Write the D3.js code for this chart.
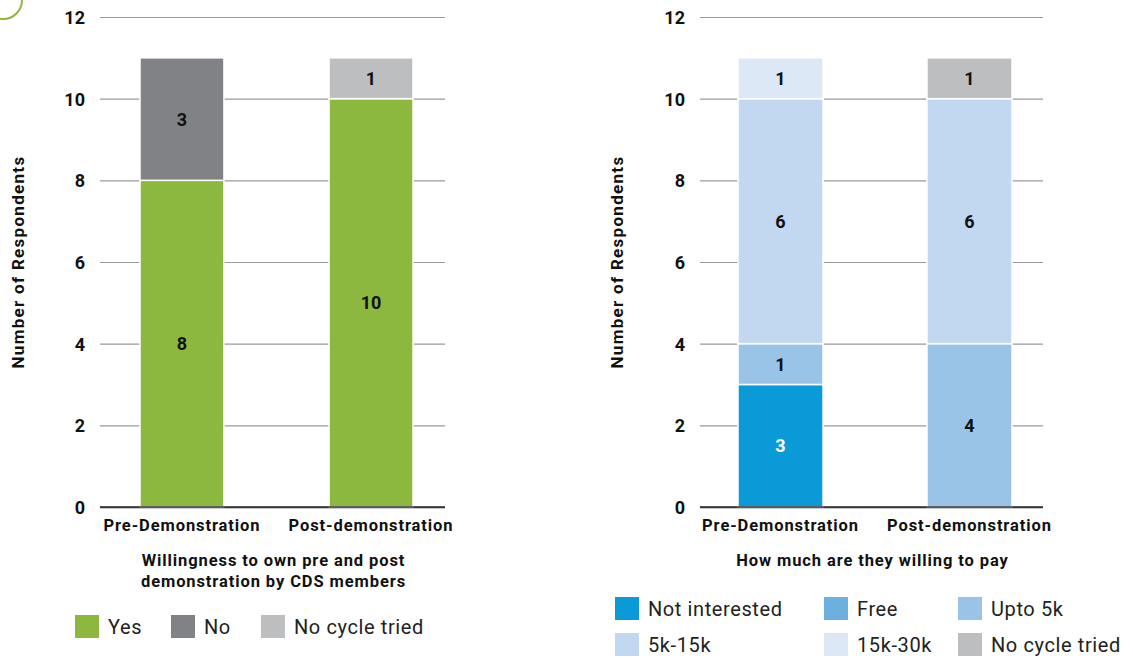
<!DOCTYPE html>
<html>
<head>
<meta charset="utf-8">
<script src="https://cdn.jsdelivr.net/npm/d3@7"></script>
<style>
  body { margin: 0; background: #fff; }
  svg { display: block; font-family: Roboto, "DejaVu Sans", sans-serif; }
</style>
</head>
<body>
<svg id="chart" width="1133" height="658"></svg>
<script>
// Shared axis data
const categories = ["Pre-Demonstration", "Post-demonstration"];
const yTicks = [0, 2, 4, 6, 8, 10, 12];

// Panel 1: willingness to own
const ownSeries = ["Yes", "No", "No cycle tried"];
const ownYes = [8, 10];
const ownNo = [3, 0];
const ownNoCycle = [0, 1];
const ownColors = ["#8cb83f", "#808285", "#bcbec0"];
const ownTitle = ["Willingness to own pre and post", "demonstration by CDS members"];

// Panel 2: willingness to pay
const paySeries = ["Not interested", "Free", "Upto 5k", "5k-15k", "15k-30k", "No cycle tried"];
const payNotInterested = [3, 0];
const payFree = [0, 0];
const payUpto5k = [1, 4];
const pay5to15k = [6, 6];
const pay15to30k = [1, 0];
const payNoCycle = [0, 1];
const payColors = ["#0a9ad7", "#6cb0e0", "#99c4e8", "#c2d8f1", "#dce8f6", "#bcbec0"];
const payTitle = ["How much are they willing to pay"];

const svg = d3.select("#chart");

// small green logo arc in the corner
svg.append("circle").attr("cx", 3).attr("cy", 0).attr("r", 19)
  .attr("fill", "none").attr("stroke", "#8cb83f").attr("stroke-width", 2);

function drawPanel(opt) {
  const g = svg.append("g");
  const x = d3.scaleBand().domain(categories).range([opt.b0, opt.b1]).paddingInner(opt.pad).paddingOuter(0);
  const y = d3.scaleLinear().domain([0, 12]).range([507, 17]);

  // gridlines
  g.append("g").attr("transform", `translate(${opt.x0},0)`)
    .call(d3.axisLeft(y).tickValues(yTicks).tickSize(-(opt.x1 - opt.x0)).tickFormat(d3.format("d")))
    .call(a => a.select(".domain").remove())
    .call(a => a.selectAll(".tick line").attr("stroke", d => d === 0 ? "#333" : "#9a9a9a").attr("stroke-width", d => d === 0 ? 1.5 : 1.2))
    .call(a => a.selectAll(".tick text").attr("x", -15).attr("dy", "0.36em")
      .attr("font-size", 18).attr("font-weight", 700).attr("fill", "#111")
      .attr("font-family", "Roboto, sans-serif"));

  // stacked bars
  const rows = categories.map((c, i) => {
    const r = { cat: c };
    opt.series.forEach((s, k) => r[s] = opt.values[k][i]);
    return r;
  });
  const stacked = d3.stack().keys(opt.series)(rows);
  stacked.forEach((layer, k) => {
    layer.forEach(seg => {
      const v = seg[1] - seg[0];
      if (v <= 0) return;
      const cat = seg.data.cat;
      g.append("rect")
        .attr("x", x(cat)).attr("width", x.bandwidth())
        .attr("y", y(seg[1])).attr("height", y(seg[0]) - y(seg[1]))
        .attr("fill", opt.colors[k]).attr("stroke", "#fff").attr("stroke-width", 1.5);
      g.append("text")
        .attr("x", x(cat) + x.bandwidth() / 2)
        .attr("y", (y(seg[0]) + y(seg[1])) / 2)
        .attr("dy", "0.36em").attr("text-anchor", "middle")
        .attr("font-size", 18).attr("font-weight", 700)
        .attr("fill", opt.labelColors[k])
        .text(v);
    });
  });
  // redraw baseline on top
  g.append("line").attr("x1", opt.x0).attr("x2", opt.x1).attr("y1", y(0)).attr("y2", y(0))
    .attr("stroke", "#333").attr("stroke-width", 1.5);

  // category labels
  categories.forEach(c => {
    g.append("text").attr("x", x(c) + x.bandwidth() / 2).attr("y", 531)
      .attr("text-anchor", "middle").attr("font-size", 16.5).attr("font-weight", 700)
      .attr("fill", "#111").attr("letter-spacing", 0.9).text(c);
  });

  // y axis title
  g.append("text").attr("transform", `translate(${opt.yTitleX},262) rotate(-90)`)
    .attr("text-anchor", "middle").attr("font-size", 17).attr("font-weight", 700)
    .attr("fill", "#111").attr("letter-spacing", 1.3).text("Number of Respondents");

  // chart title
  opt.title.forEach((t, i) => {
    g.append("text").attr("x", (opt.x0 + opt.x1) / 2 + 1).attr("y", 566 + i * 21)
      .attr("text-anchor", "middle").attr("font-size", 16.5).attr("font-weight", 700)
      .attr("fill", "#111").attr("letter-spacing", 0.9).text(t);
  });

  // legend
  opt.legendPos.forEach((p, k) => {
    g.append("rect").attr("x", p[0]).attr("y", p[1]).attr("width", 24).attr("height", 23)
      .attr("fill", opt.colors[k]);
    g.append("text").attr("x", p[0] + 33).attr("y", p[1] + 12).attr("dy", "0.35em")
      .attr("font-size", 20).attr("fill", "#222").attr("letter-spacing", 0.6).text(opt.series[k]);
  });
}

drawPanel({
  x0: 100, x1: 445, b0: 140, b1: 413, pad: 0.556, yTitleX: 24,
  series: ownSeries, values: [ownYes, ownNo, ownNoCycle], colors: ownColors,
  labelColors: ["#111", "#111", "#111"], title: ownTitle,
  legendPos: [[75, 615], [171, 615], [261, 615]]
});

drawPanel({
  x0: 700, x1: 1043, b0: 738, b1: 1012, pad: 0.55, yTitleX: 623,
  series: paySeries,
  values: [payNotInterested, payFree, payUpto5k, pay5to15k, pay15to30k, payNoCycle],
  colors: payColors,
  labelColors: ["#fff", "#111", "#111", "#111", "#111", "#111"], title: payTitle,
  legendPos: [[615, 597], [824, 597], [958, 597], [615, 633], [824, 633], [958, 633]]
});
</script>
</body>
</html>
